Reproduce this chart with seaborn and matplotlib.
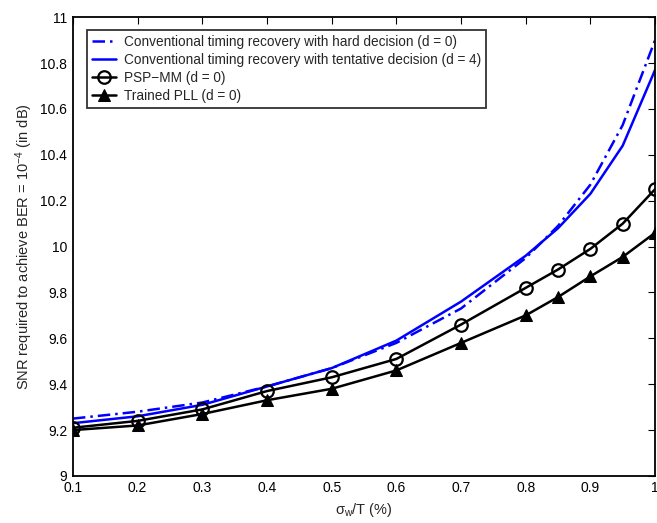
import numpy as np
import pandas as pd
import matplotlib
matplotlib.use('Agg')
import matplotlib.pyplot as plt
import seaborn as sns

# data
sigma = [0.1, 0.2, 0.3, 0.4, 0.5, 0.6, 0.7, 0.8, 0.85, 0.9, 0.95, 1.0]
hard_d0 = [9.25, 9.28, 9.32, 9.39, 9.47, 9.58, 9.73, 9.95, 10.09, 10.27, 10.53, 10.90]
tentative_d4 = [9.23, 9.26, 9.31, 9.39, 9.47, 9.59, 9.76, 9.96, 10.08, 10.23, 10.44, 10.77]
psp_mm = [9.21, 9.24, 9.29, 9.37, 9.43, 9.51, 9.66, 9.82, 9.90, 9.99, 10.10, 10.25]
trained_pll = [9.20, 9.22, 9.27, 9.33, 9.38, 9.46, 9.58, 9.70, 9.78, 9.87, 9.955, 10.06]

labels = ['Conventional timing recovery with hard decision (d = 0)',
          'Conventional timing recovery with tentative decision (d = 4)',
          'PSP\u2212MM (d = 0)',
          'Trained PLL (d = 0)']
x_ticks = [0.1, 0.2, 0.3, 0.4, 0.5, 0.6, 0.7, 0.8, 0.9, 1]
y_ticks = [9, 9.2, 9.4, 9.6, 9.8, 10, 10.2, 10.4, 10.6, 10.8, 11]

sns.set_style("white")
plt.rcParams['font.family'] = ['Liberation Sans', 'DejaVu Sans']
plt.rcParams['mathtext.fontset'] = 'custom'
plt.rcParams['mathtext.rm'] = 'Liberation Sans'
plt.rcParams['mathtext.it'] = 'Liberation Sans'
plt.rcParams['mathtext.sf'] = 'Liberation Sans'

fig = plt.figure(figsize=(6.57, 5.23), dpi=100)
ax = fig.add_axes([0.111, 0.09, 0.886, 0.877])

sns.lineplot(x=sigma, y=hard_d0, ax=ax, color='#0000ff', lw=1.8,
             linestyle=(0, (5, 2, 1, 2)), label=labels[0])
sns.lineplot(x=sigma, y=tentative_d4, ax=ax, color='#0000ff', lw=1.8,
             label=labels[1])
sns.lineplot(x=sigma, y=psp_mm, ax=ax, color='black', lw=1.8, marker='o',
             markersize=9, markerfacecolor='none', markeredgecolor='black',
             markeredgewidth=1.6, label=labels[2])
sns.lineplot(x=sigma, y=trained_pll, ax=ax, color='black', lw=1.8, marker='^',
             markersize=9, markerfacecolor='black', markeredgecolor='black',
             label=labels[3])

ax.set_xlim(0.1, 1)
ax.set_ylim(9, 11)
ax.set_xticks(x_ticks)
ax.set_xticklabels(['0.1', '0.2', '0.3', '0.4', '0.5', '0.6', '0.7', '0.8', '0.9', '1'])
ax.set_yticks(y_ticks)
ax.set_yticklabels(['9', '9.2', '9.4', '9.6', '9.8', '10', '10.2', '10.4', '10.6', '10.8', '11'])
ax.tick_params(direction='in', top=True, right=True, length=5, width=0.8,
               labelsize=10, colors='black', pad=4)
for s in ax.spines.values():
    s.set_linewidth(1.3)
    s.set_color('black')

ax.set_xlabel(r'$\sigma_w$/T (%)', fontsize=10.5)
ax.set_ylabel(r'SNR required to achieve BER = 10$^{-4}$ (in dB)', fontsize=10.5)

leg = ax.legend(loc='upper left', bbox_to_anchor=(0.024, 0.972), fontsize=9.8,
                frameon=True, fancybox=False, edgecolor='black',
                handlelength=1.8, borderpad=0.35, labelspacing=0.3,
                handletextpad=0.6, borderaxespad=0)
leg.get_frame().set_linewidth(1.3)

fig.savefig('out.png', dpi=100)
